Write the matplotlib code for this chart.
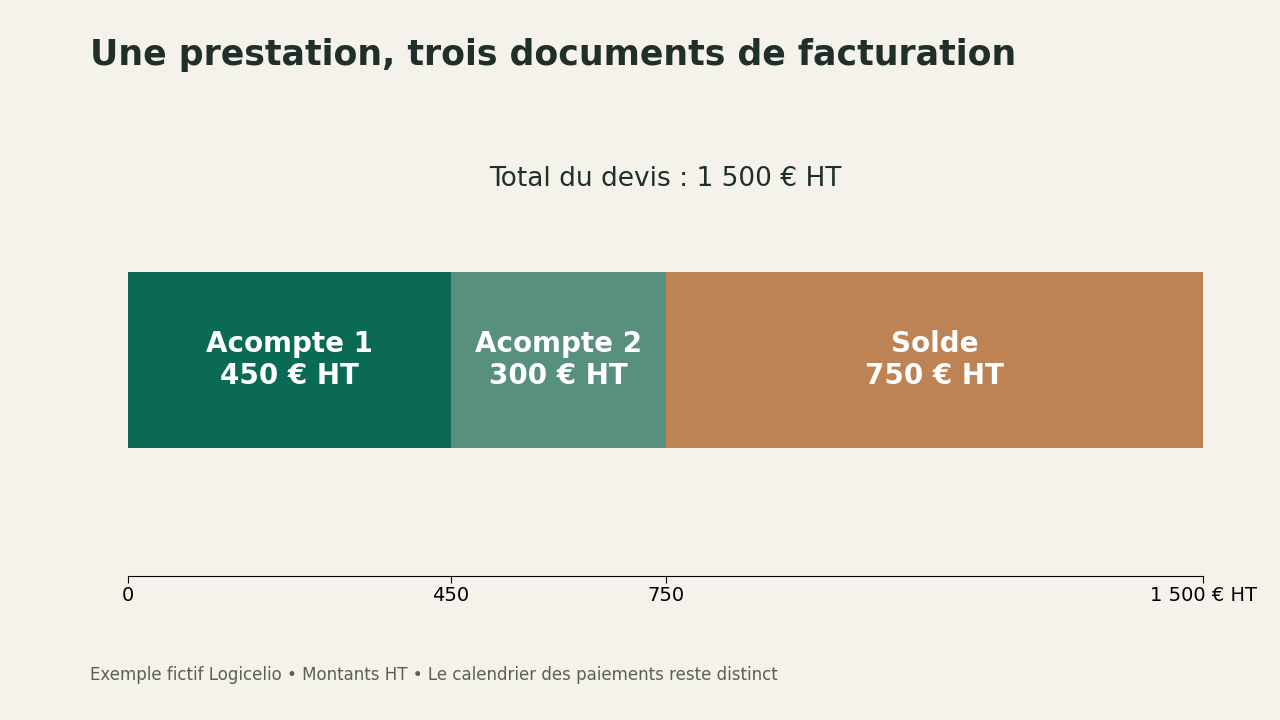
import matplotlib.pyplot as plt

# ---------- Data ----------
segments = ["Acompte 1", "Acompte 2", "Solde"]
amounts = [450, 300, 750]
seg_colors = ["#0B6A53", "#58907E", "#BD8354"]
tick_values = [0, 450, 750, 1500]
tick_labels = ["0", "450", "750", "1 500 € HT"]
total = sum(amounts)

bg = "#F4F2EA"
dark = "#1F2F2A"

fig = plt.figure(figsize=(12.8, 7.2), dpi=100)
fig.patch.set_facecolor(bg)
ax = fig.add_axes([0.1, 0.2, 0.84, 0.5083])
ax.set_facecolor(bg)

left = 0
for name, val, col in zip(segments, amounts, seg_colors):
    ax.barh(0, val, left=left, height=1.0, color=col, edgecolor="none")
    ax.text(left + val / 2, 0, "%s\n%d € HT" % (name, val), color="white",
            fontsize=20, fontweight="bold", ha="center", va="center", linespacing=1.15)
    left += val

ax.set_xlim(0, total)
ax.set_ylim(-1.227, 0.853)
ax.set_yticks([])
ax.set_xticks(tick_values)
ax.set_xticklabels(tick_labels, fontsize=14)
ax.tick_params(axis="x", length=5, width=0.8, pad=2.2)
for s in ["top", "right", "left"]:
    ax.spines[s].set_visible(False)
ax.spines["bottom"].set_linewidth(0.8)

ax.set_title("Total du devis : 1 500 € HT", fontsize=19, color=dark, pad=17)

fig.text(90 / 1280, 1 - 55 / 720, "Une prestation, trois documents de facturation",
         fontsize=25, fontweight="bold", color=dark, ha="left", va="center")
fig.text(90 / 1280, 1 - 675 / 720,
         "Exemple fictif Logicelio • Montants HT • Le calendrier des paiements reste distinct",
         fontsize=12, color="#596059", ha="left", va="center")

plt.savefig("out.png", dpi=100, facecolor=bg)
